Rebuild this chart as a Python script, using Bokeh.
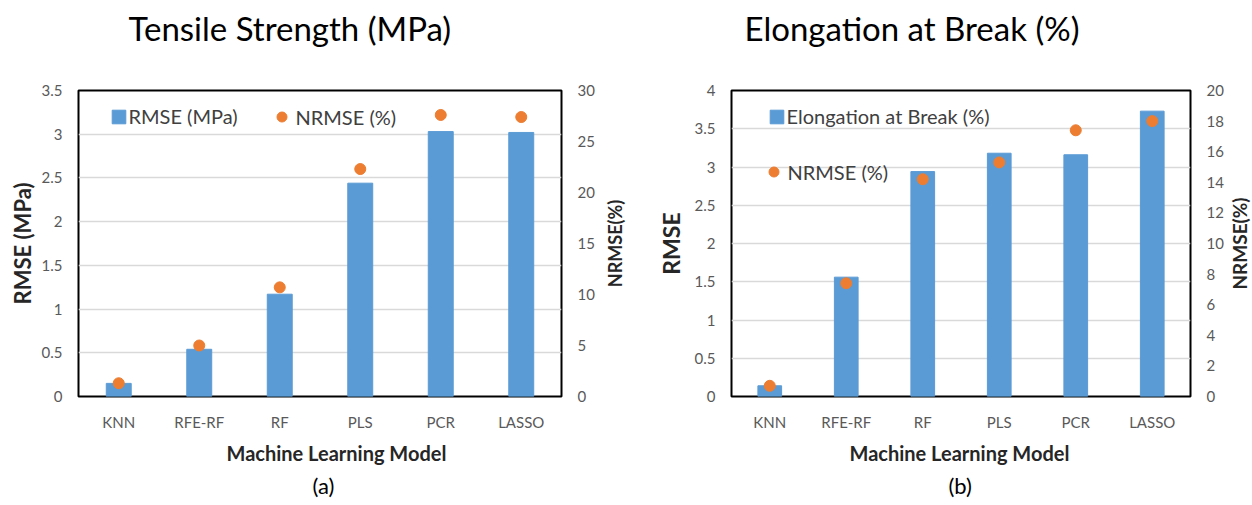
import math
from bokeh.plotting import figure
from bokeh.models import (Range1d, LinearAxis, SingleIntervalTicker, NumeralTickFormatter,
                          Legend, LegendItem, FactorRange, ColumnDataSource, Title, Label)
from bokeh.layouts import row
from bokeh.embed import file_html
from bokeh.resources import INLINE

# ---------------- data ----------------
models = ["KNN", "RFE-RF", "RF", "PLS", "PCR", "LASSO"]
ts_rmse = [0.15, 0.54, 1.17, 2.44, 3.03, 3.02]      # Tensile strength RMSE (MPa)
ts_nrmse = [1.3, 5.0, 10.7, 22.3, 27.6, 27.4]       # Tensile strength NRMSE (%)
el_rmse = [0.14, 1.56, 2.94, 3.18, 3.16, 3.73]      # Elongation at break RMSE
el_nrmse = [0.7, 7.4, 14.2, 15.3, 17.4, 18.0]       # Elongation at break NRMSE (%)

FONT = "Lato"
BLUE = "#5B9BD5"
ORANGE = "#ED7D31"
TICK_COLOR = "#595959"
AXIS_TITLE_COLOR = "#262626"


def style_axis(ax, label=None, label_size="20px", label_standoff=0):
    ax.axis_line_color = None
    ax.major_tick_line_color = None
    ax.minor_tick_line_color = None
    ax.major_tick_out = 0
    ax.major_label_text_font = FONT
    ax.major_label_text_font_size = "15px"
    ax.major_label_text_color = TICK_COLOR
    ax.major_label_standoff = 16
    if label:
        ax.axis_label = label
        ax.axis_label_text_font = FONT
        ax.axis_label_text_font_size = label_size
        ax.axis_label_text_font_style = "bold"
        ax.axis_label_text_color = AXIS_TITLE_COLOR
        ax.axis_label_standoff = label_standoff


def make_legend(renderer, label, vx, vy, gw, gh):
    return Legend(items=[LegendItem(label=label, renderers=[renderer])],
                  location=(vx, vy), padding=0, margin=0, spacing=0,
                  border_line_color=None, background_fill_alpha=0,
                  label_text_font=FONT, label_text_font_size="20px",
                  label_text_color="#404040", glyph_width=gw, glyph_height=gh,
                  label_height=gh, label_standoff=2)


def chart(width, height, bl, br, bt, bb, fh, rmse, nrmse, ymax, ystep, rmax, rstep,
          ylabel, ysize, ystand, rsize, rx):
    src = ColumnDataSource(dict(model=models, rmse=rmse, nrmse=nrmse))
    p = figure(width=width, height=height,
               x_range=FactorRange(factors=models, range_padding=0),
               y_range=Range1d(0, ymax), output_backend="svg", toolbar_location=None,
               min_border_left=bl, min_border_right=br, min_border_top=bt,
               min_border_bottom=bb)
    p.extra_y_ranges = {"nrmse": Range1d(0, rmax)}
    bars = p.vbar(x="model", top="rmse", width=0.31, source=src,
                  fill_color=BLUE, line_color=BLUE)
    dots = p.scatter(x="model", y="nrmse", source=src, y_range_name="nrmse",
                     size=11, fill_color=ORANGE, line_color=ORANGE)

    p.yaxis.ticker = SingleIntervalTicker(interval=ystep, num_minor_ticks=0)
    p.yaxis.formatter = NumeralTickFormatter(format="0.[0]")
    style_axis(p.yaxis[0], ylabel, ysize, ystand)
    style_axis(p.xaxis[0])

    rax = LinearAxis(y_range_name="nrmse",
                     ticker=SingleIntervalTicker(interval=rstep, num_minor_ticks=0),
                     formatter=NumeralTickFormatter(format="0"))
    style_axis(rax)
    p.add_layout(rax, "right")
    # right-hand axis title, reading bottom-to-top like the left one
    p.add_layout(Label(x=rx, y=fh / 2, x_units="screen", y_units="screen",
                       text="NRMSE(%)", text_font=FONT, text_font_size=rsize,
                       text_font_style="bold", text_color=AXIS_TITLE_COLOR,
                       text_align="center", text_baseline="middle",
                       angle=math.pi / 2), "right")

    p.xgrid.visible = False
    p.ygrid.grid_line_color = "#D9D9D9"
    p.ygrid.grid_line_width = 1.5
    p.outline_line_color = "black"
    p.outline_line_width = 2
    p.outline_line_alpha = 1
    p.background_fill_color = "white"
    p.border_fill_color = "white"
    return p, bars, dots


def add_titles(p, title, title_offset, xlabel_offset, tag, tag_offset):
    # chart title (a blank second line lifts it away from the plot frame)
    p.add_layout(Title(text=title + "\n ", align="left", offset=title_offset,
                       text_font=FONT, text_font_size="33px", text_font_style="normal",
                       text_line_height=1.2, text_color="black", standoff=-10), "above")
    p.add_layout(Title(text="Machine Learning Model", align="left", offset=xlabel_offset,
                       text_font=FONT, text_font_size="20px", text_font_style="bold",
                       text_color=AXIS_TITLE_COLOR, standoff=10), "below")
    p.add_layout(Title(text=tag, align="left", offset=tag_offset,
                       text_font=FONT, text_font_size="22px", text_font_style="normal",
                       text_color="black", standoff=0), "below")


# ---------------- (a) Tensile strength ----------------
pa, bars_a, dots_a = chart(645, 505, 78, 84, 90, 109, 306, ts_rmse, ts_nrmse, 3.5, 0.5, 30, 5,
                           "RMSE (MPa)", "22px", 3, "18px", 17)
pa.add_layout(make_legend(bars_a, "RMSE (MPa)", 31.5, 268, 17, 17))
pa.add_layout(make_legend(dots_a, "NRMSE (%)", 190.5, 267, 25, 25))
add_titles(pa, "Tensile Strength (MPa)", 50, 148, "(a)", 234)

# ---------------- (b) Elongation at break ----------------
pb, bars_b, dots_b = chart(607, 505, 86, 62, 90, 109, 306, el_rmse, el_nrmse, 4, 0.5, 20, 2,
                           "RMSE", "23px", 7, "19px", 13)
pb.add_layout(make_legend(bars_b, "Elongation at Break (%)", 36.5, 268, 17, 17))
pb.add_layout(make_legend(dots_b, "NRMSE (%)", 29.5, 212, 25, 25))
add_titles(pb, "Elongation at Break (%)", 13, 118, "(b)", 217)

layout = row(pa, pb)
open("out.html", "w").write(file_html(layout, INLINE))
